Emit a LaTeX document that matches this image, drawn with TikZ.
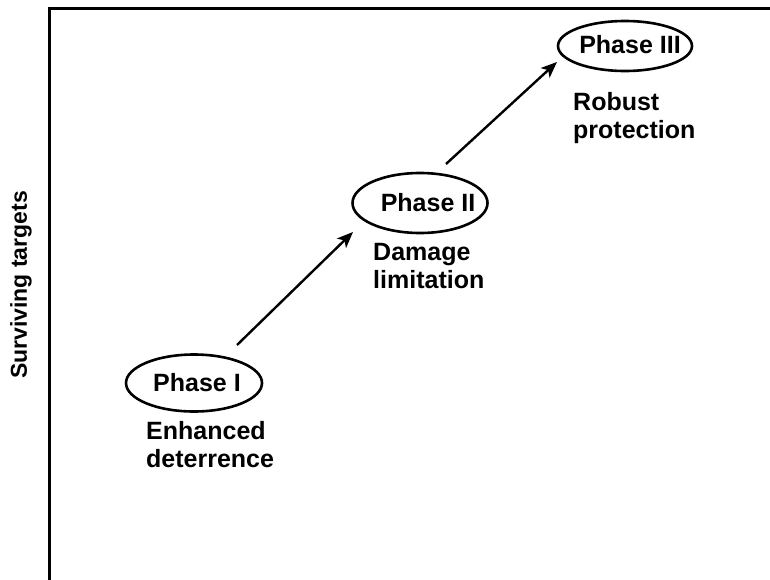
\documentclass[tikz,border=0pt]{standalone}
\usepackage{fontspec}
\setmainfont{Liberation Sans}
\usetikzlibrary{shapes.geometric,arrows.meta}
\begin{document}
\begin{tikzpicture}[x=1pt,y=-1pt,
  phase/.style={ellipse,draw,line width=2.6pt,inner sep=0pt},
  phasetext/.style={inner sep=0pt,font=\fontsize{25}{27}\selectfont\bfseries},
  desc/.style={inner sep=0pt,anchor=north west,align=left,font=\fontsize{25}{28}\selectfont\bfseries},
  axis/.style={line width=3pt},
  step arrow/.style={line width=2.4pt,-{Stealth[length=16pt,width=13pt,inset=4pt]}}]
\useasboundingbox (0,0) rectangle (770,579);
% axes
\coordinate (top) at (49,8);
\coordinate (right) at (772,8);
\coordinate (bottom) at (49,581);
\draw[axis] (right) -- (top) -- (bottom);
\node[rotate=90,inner sep=0pt,font=\fontsize{23}{25}\selectfont\bfseries] (ylab) at (21,285) {Surviving targets};
% phases
\node[phase,minimum width=136pt,minimum height=57pt] (e1) at (194,383) {};
\node[phasetext] (t1) at (197,383) {Phase I};
\node[desc] (d1) at (146,421) {Enhanced\\deterrence};
\node[phase,minimum width=135pt,minimum height=60pt] (e2) at (420,203) {};
\node[phasetext] (t2) at (428,203) {Phase II};
\node[desc] (d2) at (373,243) {Damage\\limitation};
\node[phase,minimum width=134pt,minimum height=50pt] (e3) at (625,46) {};
\node[phasetext] (t3) at (630,45) {Phase III};
\node[desc] (d3) at (573,92) {Robust\\protection};
% arrows
\coordinate (a1s) at (237,345);
\coordinate (a1e) at (353,232);
\coordinate (a2s) at (446,164);
\coordinate (a2e) at (557,62);
\draw[step arrow] (a1s) -- (a1e);
\draw[step arrow] (a2s) -- (a2e);
\end{tikzpicture}
\end{document}
